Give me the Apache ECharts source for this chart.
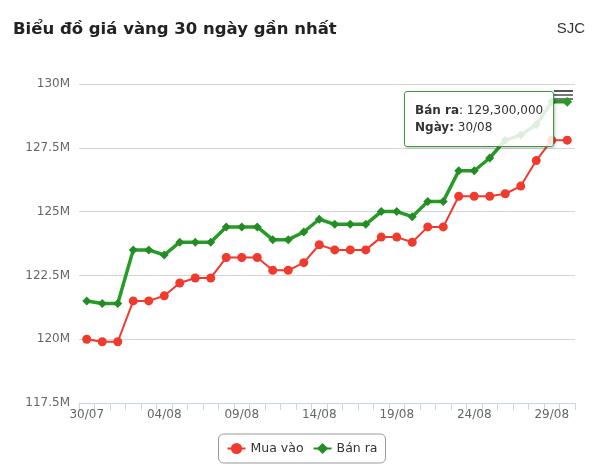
<!DOCTYPE html>
<html>
<head>
<meta charset="utf-8">
<script src="https://cdn.jsdelivr.net/npm/echarts@6/dist/echarts.min.js"></script>
<style>
html,body{margin:0;padding:0;background:#fff;}
#chart{width:604px;height:471px;}
</style>
</head>
<body>
<div id="chart"></div>
<script>
const categories = ['30/07','31/07','01/08','02/08','03/08','04/08','05/08','06/08','07/08','08/08','09/08','10/08','11/08','12/08','13/08','14/08','15/08','16/08','17/08','18/08','19/08','20/08','21/08','22/08','23/08','24/08','25/08','26/08','27/08','28/08','29/08','30/08'];
const muaVao = [120000000,119900000,119900000,121500000,121500000,121700000,122200000,122400000,122400000,123200000,123200000,123200000,122700000,122700000,123000000,123700000,123500000,123500000,123500000,124000000,124000000,123800000,124400000,124400000,125600000,125600000,125600000,125700000,126000000,127000000,127800000,127800000];
const banRa = [121500000,121400000,121400000,123500000,123500000,123300000,123800000,123800000,123800000,124400000,124400000,124400000,123900000,123900000,124200000,124700000,124500000,124500000,124500000,125000000,125000000,124800000,125400000,125400000,126600000,126600000,127100000,127800000,128000000,128400000,129300000,129300000];
const yTicks = [117500000,120000000,122500000,125000000,127500000,130000000];

const chart = echarts.init(document.getElementById('chart'), null, {renderer:'canvas'});
const fmt = v => Math.round(v).toString().replace(/\B(?=(\d{3})+(?!\d))/g, ',');
const option = {
  animation:false,
  title:[
    {text:'Biểu đồ giá vàng 30 ngày gần nhất', left:13, top:21, padding:0, textStyle:{fontFamily:'DejaVu Sans', fontWeight:'bold', fontSize:16.5, color:'#222'}},
    {text:'SJC', right:19, top:21, padding:0, textStyle:{fontFamily:'Liberation Sans', fontWeight:'normal', fontSize:15, color:'#333'}}
  ],
  grid:{left:79, right:29, top:84, bottom:68, containLabel:false},
  tooltip:{
    trigger:'item', position:[404,91], alwaysShowContent:true, transitionDuration:0,
    backgroundColor:'rgba(255,255,255,0.85)', borderColor:'#3f9a3f', borderWidth:1, padding:[10,10],
    textStyle:{fontFamily:'DejaVu Sans', fontSize:12, color:'#333'},
    extraCssText:'box-shadow:1px 1px 3px rgba(0,0,0,0.25);border-radius:3px;line-height:17px;',
    formatter:p => '<b>'+p.seriesName+'</b>: '+fmt(p.value)+'<br/><b>Ngày:</b> '+p.name
  },
  legend:{
    bottom:8, left:'center', borderColor:'#999', borderWidth:1, borderRadius:5, padding:[8,8],
    itemWidth:18, itemHeight:14, itemGap:9,
    textStyle:{fontFamily:'DejaVu Sans', fontSize:12.5, color:'#333'},
    data:['Mua vào','Bán ra']
  },
  xAxis:{
    type:'category', data:categories, boundaryGap:true,
    axisLine:{lineStyle:{color:'#ccd6eb'}},
    axisTick:{show:true, interval:0, length:7, lineStyle:{color:'#ccd6eb'}},
    axisLabel:{interval:4, color:'#666', fontFamily:'DejaVu Sans', fontSize:12, margin:6},
    splitLine:{show:false}
  },
  yAxis:{
    type:'value', min:yTicks[0], max:yTicks[yTicks.length-1], interval:2500000,
    axisLine:{show:false}, axisTick:{show:false},
    axisLabel:{color:'#666', fontFamily:'DejaVu Sans', fontSize:12, margin:9, formatter:v => (v/1000000)+'M'},
    splitLine:{lineStyle:{color:'#d6d6d6'}}
  },
  series:[
    {name:'Mua vào', type:'line', data:muaVao, symbol:'circle', symbolSize:9, showAllSymbol:true,
     itemStyle:{color:'#f03a2d'}, lineStyle:{color:'#f03a2d', width:2}},
    {name:'Bán ra', type:'line', data:banRa, symbol:'diamond', symbolSize:9, showAllSymbol:true,
     itemStyle:{color:'#248c24'}, lineStyle:{color:'#248c24', width:3.5}}
  ],
  graphic:[
    {type:'rect', left:554, top:90, shape:{width:19, height:2}, style:{fill:'#555'}, z:0},
    {type:'rect', left:554, top:94, shape:{width:19, height:2}, style:{fill:'#777'}, z:0},
    {type:'rect', left:554, top:98, shape:{width:19, height:2}, style:{fill:'#777'}, z:0}
  ]
};
chart.setOption(option);
chart.dispatchAction({type:'highlight', seriesIndex:1, dataIndex:31});
chart.dispatchAction({type:'showTip', seriesIndex:1, dataIndex:31});
</script>
</body>
</html>
